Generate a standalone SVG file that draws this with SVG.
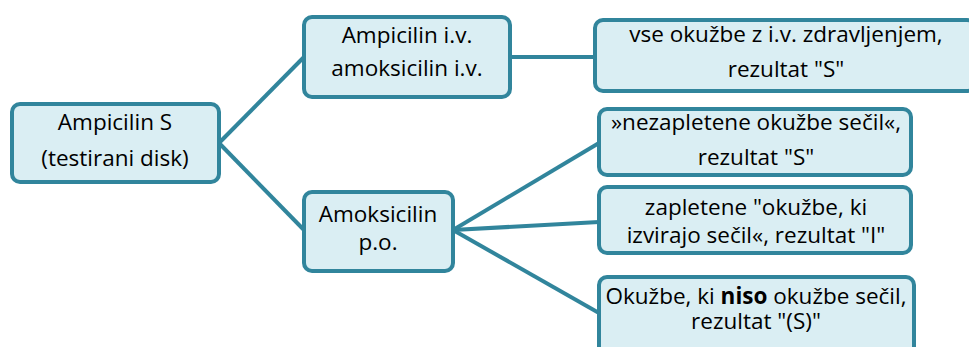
<svg xmlns="http://www.w3.org/2000/svg" width="969" height="347" viewBox="0 0 969 347">
<style>
.box{fill:#DAEEF3;stroke:#31859C;stroke-width:4}
.c{stroke:#31859C;stroke-width:4;fill:none}
text{font-family:"Open Sans","Liberation Sans",Arial,sans-serif;font-size:22.5px;fill:#000;text-anchor:middle}
</style>
<rect width="969" height="347" fill="#fff"/>
<g id="connectors">
<line class="c" x1="219" y1="143" x2="304" y2="57"/>
<line class="c" x1="219" y1="143" x2="304" y2="230"/>
<line class="c" x1="510" y1="57" x2="595" y2="57"/>
<line class="c" x1="453" y1="230" x2="599" y2="143"/>
<line class="c" x1="453" y1="230" x2="599" y2="222"/>
<line class="c" x1="453" y1="230" x2="599" y2="313"/>
</g>
<g id="n1"><rect class="box" x="12" y="104" width="207" height="78" rx="8"/>
<text x="115" y="130">Ampicilin S</text><text x="115" y="166">(testirani disk)</text></g>
<g id="n2"><rect class="box" x="304" y="17" width="206" height="80" rx="8"/>
<text x="407" y="43">Ampicilin i.v.</text><text x="407" y="76">amoksicilin i.v.</text></g>
<g id="n3"><rect class="box" x="595" y="20" width="380" height="71" rx="8"/>
<text x="786" y="42">vse okužbe z i.v. zdravljenjem,</text><text x="786" y="77">rezultat "S"</text></g>
<g id="n4"><rect class="box" x="304" y="192" width="149" height="79" rx="8"/>
<text x="378" y="222">Amoksicilin</text><text x="378" y="250">p.o.</text></g>
<g id="n5"><rect class="box" x="599" y="109" width="312" height="66" rx="8"/>
<text x="756" y="130">»nezapletene okužbe sečil«,</text><text x="756" y="165">rezultat "S"</text></g>
<g id="n6"><rect class="box" x="599" y="187" width="312" height="66" rx="8"/>
<text x="756" y="215">zapletene "okužbe, ki</text><text x="756" y="243">izvirajo sečil«, rezultat "I"</text></g>
<g id="n7"><rect class="box" x="599" y="277" width="315" height="80" rx="8"/>
<text x="756" y="304">Okužbe, ki <tspan font-weight="bold">niso</tspan> okužbe sečil,</text><text x="756" y="329">rezultat "(S)"</text></g>
</svg>
